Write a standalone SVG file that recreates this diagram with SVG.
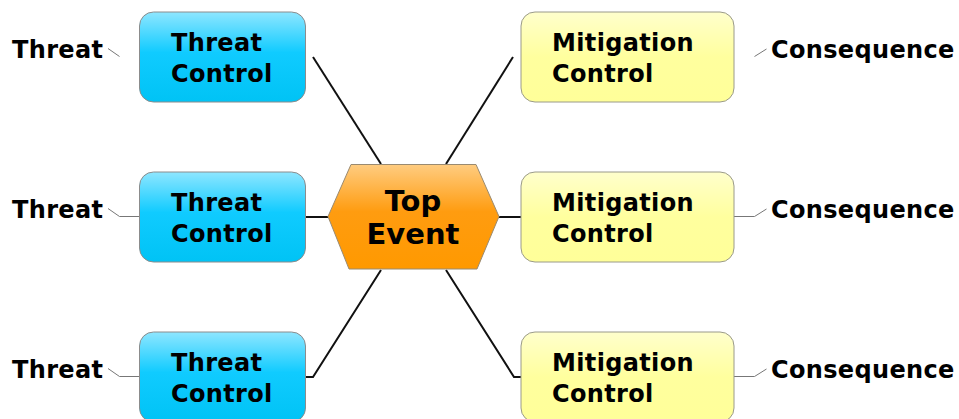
<svg xmlns="http://www.w3.org/2000/svg" width="959" height="419" viewBox="0 0 959 419">
<defs>
<linearGradient id="gBlue" x1="0" y1="0" x2="0" y2="1">
<stop offset="0" stop-color="#8ee6ff"/>
<stop offset="0.45" stop-color="#10cbff"/>
<stop offset="1" stop-color="#00c3f5"/>
</linearGradient>
<linearGradient id="gYellow" x1="0" y1="0" x2="0" y2="1">
<stop offset="0" stop-color="#ffffcc"/>
<stop offset="0.5" stop-color="#ffff9e"/>
<stop offset="1" stop-color="#ffff99"/>
</linearGradient>
<linearGradient id="gOrange" x1="0" y1="0" x2="0" y2="1">
<stop offset="0" stop-color="#ffcc80"/>
<stop offset="0.45" stop-color="#ff9c10"/>
<stop offset="1" stop-color="#ff9900"/>
</linearGradient>
</defs>
<style>
text{font-family:"DejaVu Sans",Verdana,sans-serif;font-weight:bold;fill:#000}
.t24{font-size:24px;letter-spacing:0.35px}
.top{font-size:29px}
.tc rect{fill:url(#gBlue);stroke:#8c8c8c;stroke-width:1}
.mc rect{fill:url(#gYellow);stroke:#9a9a8a;stroke-width:1}
.thick{stroke:#111;stroke-width:2;fill:none}
.thin{stroke:#777;stroke-width:1;fill:none}
</style>
<g id="connectors">
<line class="thick" x1="313" y1="57" x2="381" y2="164"/>
<line class="thick" x1="513" y1="57" x2="446" y2="164"/>
<polyline class="thick" points="306,377 313,377 381,270"/>
<polyline class="thick" points="521,377 514,377 446,270"/>
<line class="thick" x1="306" y1="217" x2="328" y2="217"/>
<line class="thick" x1="499" y1="217" x2="521" y2="217"/>
<line class="thin" x1="108" y1="48.5" x2="119.5" y2="56.5"/>
<polyline class="thin" points="108,208.5 119.5,216.5 139,216.5"/>
<polyline class="thin" points="108,368.5 119.5,376.5 139,376.5"/>
<line class="thin" x1="754.5" y1="56.5" x2="766.5" y2="49"/>
<polyline class="thin" points="734,216.5 754.5,216.5 766.5,209"/>
<polyline class="thin" points="734,376.5 754.5,376.5 766.5,369"/>
</g>
<g id="top-event">
<polygon points="328,216.5 351,164.5 476,164.5 499,216.5 477,269 349,269" fill="url(#gOrange)" stroke="#9a8a70" stroke-width="1"/>
<text class="top" x="413" y="211" text-anchor="middle">Top</text>
<text class="top" x="413" y="244" text-anchor="middle">Event</text>
</g>
<g id="threat-control-1" class="tc">
<rect x="139.5" y="12" width="166" height="90" rx="14"/>
<text class="t24" x="171" y="51">Threat</text>
<text class="t24" x="171" y="82">Control</text>
</g>
<g id="threat-control-2" class="tc">
<rect x="139.5" y="172" width="166" height="90" rx="14"/>
<text class="t24" x="171" y="211">Threat</text>
<text class="t24" x="171" y="242">Control</text>
</g>
<g id="threat-control-3" class="tc">
<rect x="139.5" y="332" width="166" height="90" rx="14"/>
<text class="t24" x="171" y="371">Threat</text>
<text class="t24" x="171" y="402">Control</text>
</g>
<g id="mitigation-control-1" class="mc">
<rect x="521" y="12" width="213" height="90" rx="14"/>
<text class="t24" x="552" y="51">Mitigation</text>
<text class="t24" x="552" y="82">Control</text>
</g>
<g id="mitigation-control-2" class="mc">
<rect x="521" y="172" width="213" height="90" rx="14"/>
<text class="t24" x="552" y="211">Mitigation</text>
<text class="t24" x="552" y="242">Control</text>
</g>
<g id="mitigation-control-3" class="mc">
<rect x="521" y="332" width="213" height="90" rx="14"/>
<text class="t24" x="552" y="371">Mitigation</text>
<text class="t24" x="552" y="402">Control</text>
</g>
<g id="threat-1"><text class="t24" x="12" y="58">Threat</text></g>
<g id="threat-2"><text class="t24" x="12" y="218">Threat</text></g>
<g id="threat-3"><text class="t24" x="12" y="378">Threat</text></g>
<g id="consequence-1"><text class="t24" x="771" y="58">Consequence</text></g>
<g id="consequence-2"><text class="t24" x="771" y="218">Consequence</text></g>
<g id="consequence-3"><text class="t24" x="771" y="378">Consequence</text></g>
</svg>
